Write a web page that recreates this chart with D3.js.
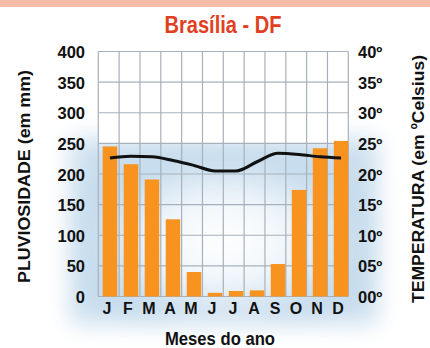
<!DOCTYPE html>
<html><head><meta charset="utf-8">
<script src="https://cdn.jsdelivr.net/npm/d3@7"></script>
<style>
html,body{margin:0;padding:0;background:#fff;}
svg text{font-family:"Liberation Sans",Arial,Helvetica,sans-serif;font-weight:bold;}
</style></head>
<body><svg id="c" width="430" height="348"></svg>
<script>
const months = ["J","F","M","A","M","J","J","A","S","O","N","D"];
const rainfall = [245, 216, 191, 126, 40, 6, 9, 10, 53, 174, 242, 254];
const temperature = [22.6, 22.9, 22.8, 22.2, 21.4, 20.5, 20.5, 22.0, 23.4, 23.2, 22.8, 22.6];
const rainTicks = [0, 50, 100, 150, 200, 250, 300, 350, 400];
const tempTicks = [0, 5, 10, 15, 20, 25, 30, 35, 40];
const tempTickLabels = ["00º","05º","10º","15º","20º","25º","30º","35º","40º"];

const svg = d3.select("#c");
const GL = 98.3, GR = 348.3, T = 51.5, B = 296.5;

// top band
svg.append("rect").attr("x",0).attr("y",0).attr("width",430).attr("height",7).attr("fill","#f4bca6");

// background glow
const defs = svg.append("defs");
const rg = defs.append("radialGradient").attr("id","glow").attr("cx","50%").attr("cy","55%").attr("r","60%");
rg.append("stop").attr("offset","0%").attr("stop-color","#ffffff");
rg.append("stop").attr("offset","35%").attr("stop-color","#f2f7fb");
rg.append("stop").attr("offset","75%").attr("stop-color","#c3daec");
rg.append("stop").attr("offset","100%").attr("stop-color","#cde0ef");
const f = defs.append("filter").attr("id","blur").attr("x","-30%").attr("y","-30%").attr("width","160%").attr("height","160%");
f.append("feGaussianBlur").attr("stdDeviation",11);
svg.append("rect").attr("x",70).attr("y",138).attr("width",308).attr("height",186)
  .attr("fill","url(#glow)").attr("filter","url(#blur)");

const x = d3.scaleBand().domain(d3.range(12)).range([102.7, 348.3]).paddingInner(0.31).paddingOuter(0);
const yR = d3.scaleLinear().domain([0,400]).range([B, T]);
const yT = d3.scaleLinear().domain([0,40]).range([B, T]);
const xg = d3.scaleLinear().domain([0,12]).range([GL, GR]);

// white top area of plot
svg.append("rect").attr("x",GL).attr("y",T).attr("width",GR-GL).attr("height",yR(250)-T).attr("fill","#fff");

// gridlines
const g = svg.append("g").attr("stroke","#a7b1bb").attr("stroke-width",1.2);
rainTicks.forEach(v => g.append("line").attr("x1",GL).attr("x2",GR).attr("y1",yR(v)).attr("y2",yR(v)));
d3.range(13).forEach(i => {
  g.append("line").attr("x1",xg(i)).attr("x2",xg(i)).attr("y1",T).attr("y2",B);
});

// bars
svg.append("g").selectAll("rect").data(rainfall).join("rect")
  .attr("x",(d,i)=>x(i)).attr("width",x.bandwidth())
  .attr("y",d=>yR(d)).attr("height",d=>B-yR(d))
  .attr("fill","#f7931e");

// temperature line
const line = d3.line().x((d,i)=>x(i)+x.bandwidth()/2).y(d=>yT(d)).curve(d3.curveMonotoneX);
svg.append("path").datum(temperature).attr("d",line).attr("fill","none").attr("stroke","#111").attr("stroke-width",3);

// left axis
const la = svg.append("g").attr("transform",`translate(85,0)`)
  .call(d3.axisLeft(yR).tickValues(rainTicks).tickSize(0).tickPadding(0));
la.select(".domain").remove();
la.selectAll("text").attr("font-size",16.5).attr("fill","#111").attr("dy","0.37em");

// right axis
const ra = svg.append("g").attr("transform",`translate(358,0)`)
  .call(d3.axisRight(yT).tickValues(tempTicks).tickSize(0).tickPadding(0).tickFormat((d,i)=>tempTickLabels[i]));
ra.select(".domain").remove();
ra.selectAll("text").attr("font-size",16.5).attr("fill","#111").attr("dy","0.37em");

// month labels
const ba = svg.append("g").attr("transform",`translate(-3,${B})`)
  .call(d3.axisBottom(x).tickSize(0).tickPadding(0).tickFormat(i=>months[i]));
ba.select(".domain").remove();
ba.selectAll("text").attr("font-size",16).attr("fill","#111").attr("dy","1.12em");

// titles
svg.append("text").attr("x",223).attr("y",33).attr("text-anchor","middle").attr("font-size",23)
  .attr("textLength",117).attr("lengthAdjust","spacingAndGlyphs").attr("fill","#e0401f").text("Brasília - DF");
svg.append("text").attr("x",220).attr("y",344.5).attr("text-anchor","middle").attr("font-size",18)
  .attr("textLength",110).attr("lengthAdjust","spacingAndGlyphs").attr("fill","#111").text("Meses do ano");
svg.append("text").attr("transform","translate(30,176.5) rotate(-90)").attr("text-anchor","middle").attr("font-size",17)
  .attr("textLength",213).attr("lengthAdjust","spacingAndGlyphs").attr("fill","#111").text("PLUVIOSIDADE (em mm)");
svg.append("text").attr("transform","translate(424,179) rotate(-90)").attr("text-anchor","middle").attr("font-size",17)
  .attr("textLength",248).attr("lengthAdjust","spacingAndGlyphs").attr("fill","#111").text("TEMPERATURA (em ºCelsius)");
</script></body></html>
